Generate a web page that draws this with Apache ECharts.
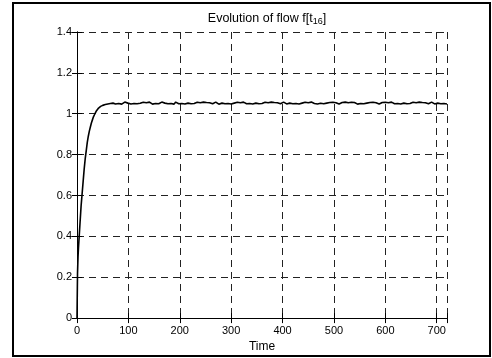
<!DOCTYPE html>
<html>
<head>
<meta charset="utf-8">
<script src="https://cdn.jsdelivr.net/npm/echarts@6/dist/echarts.min.js"></script>
<style>html,body{margin:0;padding:0;background:#fff}#c{width:492px;height:358px}</style>
</head>
<body>
<div id="c"></div>
<script>
const titleText = 'Evolution of flow f[t';
const titleSub = '16';
const xName = 'Time';
const xTicks = [0, 100, 200, 300, 400, 500, 600, 700];
const yTicks = [0, 0.2, 0.4, 0.6, 0.8, 1, 1.2, 1.4];
const riseTime = [0,1,2,3,4,5,6,7,8,9,10,12,14,16,18,20,22,24,26,28,30,32,34,36,38,40,42,44,46,48,50,55,60,65,70];
const riseFlow = [0,0.22,0.30,0.35,0.39,0.43,0.47,0.51,0.55,0.58,0.61,0.67,0.73,0.78,0.82,0.86,0.89,0.915,0.935,0.955,0.97,0.985,0.995,1.005,1.015,1.022,1.028,1.033,1.036,1.039,1.041,1.045,1.048,1.050,1.052];
const plateauStart = 72, plateauStep = 3;
const plateauFlow = [
1.053,1.048,1.056,1.050,1.055,1.047,1.054,1.057,1.049,1.052,
1.056,1.048,1.054,1.050,1.057,1.049,1.055,1.051,1.047,1.056,
1.050,1.054,1.048,1.057,1.052,1.047,1.055,1.050,1.056,1.049,
1.054,1.057,1.048,1.052,1.055,1.049,1.056,1.050,1.054,1.047,
1.057,1.051,1.049,1.055,1.050,1.056,1.048,1.054,1.052,1.057,
1.049,1.055,1.050,1.047,1.056,1.052,1.054,1.049,1.057,1.050,
1.055,1.048,1.054,1.056,1.049,1.052,1.057,1.050,1.047,1.055,
1.052,1.056,1.049,1.054,1.050,1.057,1.048,1.055,1.052,1.049,
1.056,1.050,1.054,1.047,1.057,1.052,1.049,1.055,1.050,1.056,
1.048,1.054,1.052,1.057,1.049,1.055,1.050,1.047,1.056,1.052,
1.054,1.049,1.057,1.050,1.055,1.048,1.054,1.056,1.049,1.052,
1.057,1.050,1.048,1.055,1.052,1.056,1.049,1.054,1.050,1.057,
1.048,1.055,1.052,1.049,1.056,1.050,1.054,1.047,1.057,1.052,
1.050,1.055,1.048,1.056,1.051,1.054,1.049,1.057,1.052,1.048,
1.055,1.050,1.056,1.049,1.054,1.057,1.048,1.053,1.055,1.050,
1.057,1.049,1.054,1.051,1.056,1.048,1.055,1.052,1.047,1.056,
1.050,1.054,1.049,1.057,1.052,1.048,1.055,1.050,1.056,1.049,
1.054,1.057,1.048,1.052,1.055,1.049,1.056,1.050,1.054,1.048,
1.057,1.051,1.049,1.055,1.050,1.056,1.048,1.054,1.052,1.057,
1.049,1.055,1.050,1.048,1.056,1.052,1.054,1.049,1.057,1.050,
1.055,1.048,1.054,1.056,1.049,1.052,1.057,1.050,1.048,1.055,
1.052,1.056,1.049,1.054,1.050,1.057,1.048];

const data = [];
riseTime.forEach((t, i) => data.push([t, riseFlow[i]]));
plateauFlow.forEach((v, i) => data.push([plateauStart + i * plateauStep, v]));

const font = 'Liberation Sans, Arial, sans-serif';
const chart = echarts.init(document.getElementById('c'), null, {renderer: 'canvas'});
const dash = {type: [7, 5], color: '#222', width: 1};
chart.setOption({
  animation: false,
  backgroundColor: '#fff',
  title: {
    text: titleText + '{sub|' + titleSub + '}]',
    left: 262, top: 6, textAlign: 'center',
    textStyle: {fontFamily: font, fontSize: 12.5, fontWeight: 'normal', color: '#000',
      rich: {sub: {fontFamily: font, fontSize: 9, verticalAlign: 'bottom', padding: [6, 0, 0, 0], color: '#000'}}}
  },
  graphic: [{type: 'rect', shape: {x: 13, y: 3, width: 477, height: 353}, style: {fill: 'none', stroke: '#000', lineWidth: 2}, silent: true}],
  grid: {left: 77, right: 45, top: 32, bottom: 35, containLabel: false},
  xAxis: [{
    type: 'value', min: 0, max: 720, interval: 100, position: 'bottom',
    name: xName, nameLocation: 'middle', nameGap: 21,
    nameTextStyle: {fontFamily: font, fontSize: 12, color: '#000'},
    axisLine: {lineStyle: {color: '#000', width: 1}},
    axisTick: {inside: true, length: 5, lineStyle: {color: '#000'}},
    axisLabel: {fontFamily: font, fontSize: 11, color: '#000', margin: 7,
      formatter: v => xTicks.includes(v) ? String(v) : ''},
    splitLine: {show: true, lineStyle: dash}
  }, {
    type: 'value', min: 0, max: 720, interval: 100, position: 'top',
    axisLine: {lineStyle: {color: '#000', width: 1}},
    axisTick: {inside: true, length: 5, lineStyle: {color: '#000'}},
    axisLabel: {show: false}, splitLine: {show: false}
  }],
  yAxis: [{
    type: 'value', min: 0, max: 1.4, interval: 0.2, position: 'left',
    axisLine: {show: true, lineStyle: {color: '#000', width: 1}},
    axisTick: {show: true, inside: true, length: 5, lineStyle: {color: '#000'}},
    axisLabel: {fontFamily: font, fontSize: 11, color: '#000', margin: 5,
      formatter: v => { const t = yTicks.find(y => Math.abs(y - v) < 1e-9); return t === undefined ? '' : String(t); }},
    splitLine: {show: true, lineStyle: dash}
  }, {
    type: 'value', min: 0, max: 1.4, interval: 0.2, position: 'right',
    axisLine: {show: true, lineStyle: {color: '#000', width: 1}},
    axisTick: {show: true, inside: true, length: 5, lineStyle: {color: '#000'}},
    axisLabel: {show: false}, splitLine: {show: false}
  }],
  series: [{
    type: 'line', data: data, showSymbol: false, symbol: 'none',
    lineStyle: {color: '#000', width: 1.6}, clip: true
  }]
});
</script>
</body>
</html>
